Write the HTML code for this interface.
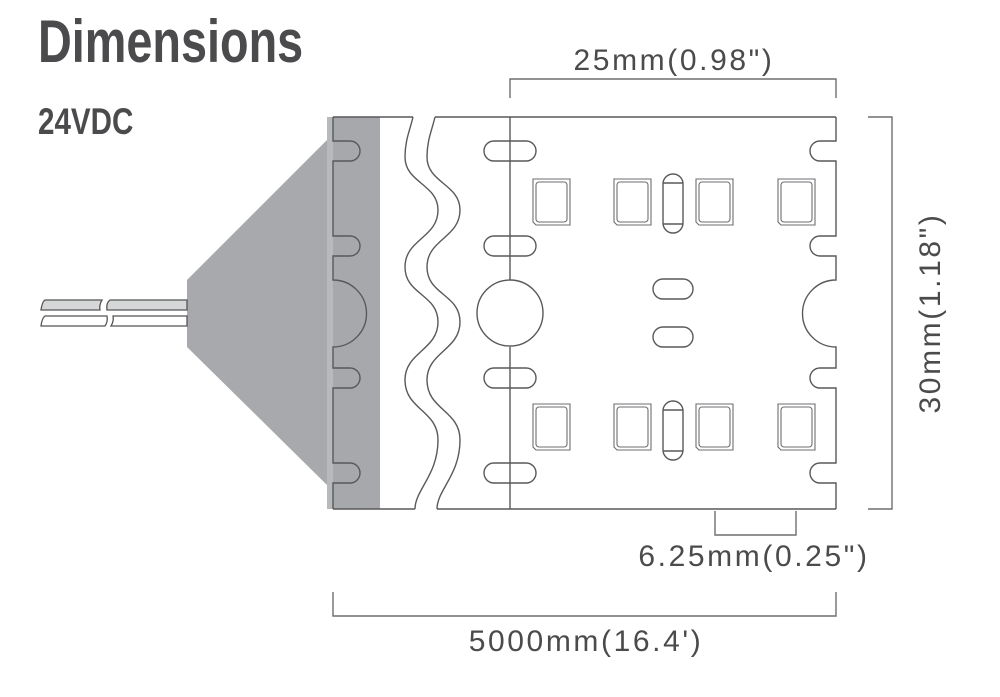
<!DOCTYPE html>
<html><head><meta charset="utf-8"><style>
html,body{margin:0;padding:0;background:#fff;}
svg{display:block;}
</style></head><body>
<svg width="1000" height="697" viewBox="0 0 1000 697" xmlns="http://www.w3.org/2000/svg">
<defs>
<g id="led" fill="none" stroke="#6d6e70" stroke-width="1.1"><path d="M0,0 H37 V46 H3 L0,43 Z"/><rect x="3" y="3" width="31" height="40" rx="3"/></g>
</defs>
<g font-family="Liberation Sans Narrow, Liberation Sans, sans-serif" font-weight="bold" fill="#4b4b4d">
<text x="38" y="62" font-size="60" transform="translate(38,0) scale(0.78,1) translate(-38,0)">Dimensions</text>
<text x="38" y="134" font-size="37" transform="translate(38,0) scale(0.8,1) translate(-38,0)">24VDC</text>
</g>
<!-- connector -->
<polygon points="187,280 327,140 327,485 187,347" fill="#a8a9ac"/>
<rect x="327" y="117" width="6" height="392" fill="#b8b9bb"/>
<rect x="333" y="117" width="47" height="392" fill="#a7a8ab"/>
<!-- wires -->
<g stroke="#555" stroke-width="1.3">
<path d="M45,300 L102,300 Q99,305 100,310 L41,310 Q42,302 45,300Z" fill="#d6d7d8"/>
<path d="M110,300 L187,300 L187,310 L107,310 Q106,303 110,300Z" fill="#d6d7d8"/>
<path d="M45,316 L107,316 Q108,322 105,326 L41,326 Q42,318 45,316Z" fill="#fff"/>
<path d="M113,316 L187,316 L187,326 L111,326 Q114,321 113,316Z" fill="#fff"/>
</g>
<g fill="none" stroke="#58595b" stroke-width="1.4">
<path d="M333,117 L413,117 M333,509 L415,509"/>
<path d="M333,117 V141 H350 A10,10 0 0 1 350,161 H333 V236 H350 A10,10 0 0 1 350,256 H333 V280 A33,33 0 0 1 333,347 V368 H350 A10,10 0 0 1 350,388 H333 V463 H350 A10,10 0 0 1 350,483 H333 V509"/>
<path d="M413,117 C410,130 405,140 405,157 C405,183 438,184 438,210 C438,238 405,239 405,267 C405,295 438,294 438,322 C438,350 405,352 405,380 C405,410 438,410 438,440 C438,475 415,490 415,509"/>
<path d="M435,117 C432,130 427,140 427,157 C427,183 460,184 460,210 C460,238 427,239 427,267 C427,295 460,294 460,322 C460,350 427,352 427,380 C427,410 460,410 460,440 C460,475 437,490 437,509"/>
<path d="M435,117 H836 M437,509 H836"/>
<path d="M836,117 V141 H820 A10,10 0 0 0 820,161 H836 V236 H820 A10,10 0 0 0 820,256 H836 V280 A33,33 0 0 0 836,347 V368 H820 A10,10 0 0 0 820,388 H836 V463 H820 A10,10 0 0 0 820,483 H836 V509"/>
<path d="M510,117 V280 M510,347 V509"/>
<circle cx="510" cy="313" r="33"/>
<rect x="484" y="141" width="52" height="20" rx="10"/>
<rect x="484" y="236" width="52" height="20" rx="10"/>
<rect x="484" y="368" width="52" height="20" rx="10"/>
<rect x="484" y="463" width="52" height="20" rx="10"/>
<rect x="653" y="279" width="40" height="20" rx="10"/>
<rect x="653" y="327" width="40" height="20" rx="10"/>
<rect x="663" y="174" width="20" height="59" rx="10"/>
<path d="M663,183 H683 M663,224 H683"/>
<rect x="663" y="401" width="20" height="59" rx="10"/>
<path d="M663,410 H683 M663,451 H683"/>
</g>
<use href="#led" x="533" y="179"/><use href="#led" x="614" y="179"/><use href="#led" x="696" y="179"/><use href="#led" x="778" y="179"/>
<use href="#led" x="533" y="404"/><use href="#led" x="614" y="404"/><use href="#led" x="696" y="404"/><use href="#led" x="778" y="404"/>
<!-- dims -->
<g fill="none" stroke="#6d6e70" stroke-width="1.4">
<path d="M510,98 V79 H836 V98"/>
<path d="M868,117 H892 V509 H868"/>
<path d="M715,511 V535 H796 V511"/>
<path d="M333,592 V616 H836 V592"/>
</g>
<g font-family="Liberation Sans, sans-serif" font-size="30" letter-spacing="2.6" fill="#4b4b4d" text-anchor="middle">
<text x="674" y="70">25mm(0.98")</text>
<text x="754" y="566">6.25mm(0.25")</text>
<text x="586" y="651">5000mm(16.4')</text>
<text x="0" y="0" transform="translate(940,313) rotate(-90)">30mm(1.18")</text>
</g>
</svg>
</body></html>
